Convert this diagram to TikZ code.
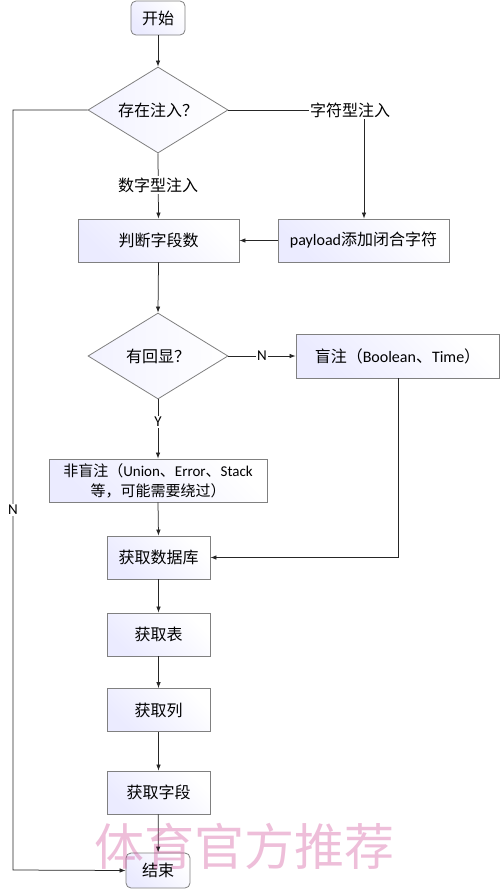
\documentclass[tikz,border=0pt]{standalone}
\usepackage{fontspec}
\setmainfont{Carlito}
\newfontfamily\cjk{Noto Sans CJK SC}
\usetikzlibrary{arrows.meta,shapes.geometric}
\newcommand{\la}[1]{{\fontspec{Carlito}#1}}
\tikzset{
  x=1pt,y=-1pt,
  every node/.style={font=\cjk\fontsize{16}{19}\selectfont, text=black},
  boxstyle/.style={draw=black!50, line width=0.8pt, left color=blue!8!white, right color=white, shading angle=135, inner sep=0pt, align=center},
  termstyle/.style={boxstyle, rounded corners=5pt},
  decstyle/.style={diamond, draw=black!50, line width=0.8pt, left color=blue!5!white, right color=white, inner sep=0pt, aspect=1.63, minimum width=140pt, minimum height=86pt},
  conn/.style={draw=black!85, line width=0.75pt, -{Latex[length=6pt,width=4.5pt]}},
  plain/.style={draw=black!85, line width=0.75pt},
  lbl/.style={fill=white, inner sep=1.5pt}
}
\begin{document}
\begin{tikzpicture}
\useasboundingbox (0,0) rectangle (500,889);
\fill[white] (0,0) rectangle (500,889);
\node[termstyle, minimum width=54pt, minimum height=34pt] (start) at (158,18) {开始};
\node[decstyle] (d1) at (158,110) {存在注入？};
\node[boxstyle, minimum width=161pt, minimum height=43pt] (judge) at (158.5,240.5) {判断字段数};
\node[boxstyle, minimum width=171pt, minimum height=43pt] (payload) at (363.5,240.5) {\la{payload}添加闭合字符};
\node[decstyle] (d2) at (158,356) {有回显？};
\node[boxstyle, minimum width=203pt, minimum height=44pt] (blind) at (397.5,356) {盲注（\la{Boolean}、\la{Time}）};
\node[boxstyle, minimum width=218pt, minimum height=43pt, font=\cjk\fontsize{15}{20}\selectfont] (nonblind) at (158,480.5) {非盲注（\la{Union}、\la{Error}、\la{Stack}\\等，可能需要绕过）};
\node[boxstyle, minimum width=103pt, minimum height=43pt] (db) at (158.5,557.5) {获取数据库};
\node[boxstyle, minimum width=103pt, minimum height=43pt] (tbl) at (158.5,634.5) {获取表};
\node[boxstyle, minimum width=103pt, minimum height=43pt] (col) at (158.5,710) {获取列};
\node[boxstyle, minimum width=103pt, minimum height=43pt] (fld) at (158.5,792.5) {获取字段};
\node[termstyle, minimum width=64pt, minimum height=35pt] (end) at (158,870.5) {结束};

\coordinate (c1) at (364,110);
\coordinate (c2) at (13,110);
\coordinate (c3) at (13,870);
\coordinate (c4) at (398,557.5);

\draw[conn] (start) -- (d1);
\draw[plain] (d1.east) -- (c1);
\draw[conn] (c1) -- (payload.north -| c1);
\node[lbl] (lchar) at (350,110) {字符型注入};
\draw[conn] (d1.south) -- (judge.north);
\node[lbl] (lnum) at (158,185) {数字型注入};
\draw[conn] (payload.west) -- (judge.east);
\draw[conn] (judge.south) -- (d2.north);
\draw[conn] (d2.east) -- (blind.west);
\node[lbl, font=\fontsize{15}{16}\selectfont] (ln) at (262,356) {N};
\draw[conn] (d2.south) -- (nonblind.north);
\node[lbl, font=\fontsize{15}{16}\selectfont] (ly) at (158,422) {Y};
\draw[conn] (nonblind.south) -- (db.north);
\draw[conn] (blind.south -| c4) -- (c4) -- (db.east);
\draw[conn] (db) -- (tbl);
\draw[conn] (tbl) -- (col);
\draw[conn] (col) -- (fld);
\draw[conn] (fld) -- (end);
\draw[conn] (d1.west) -- (c2) -- (c3) -- (end.west);
\node[lbl, font=\fontsize{15}{16}\selectfont] (lnl) at (13,510) {N};

\node[font=\cjk\fontsize{50}{50}\selectfont, text=magenta!60!violet, opacity=0.3] (wm) at (244,846) {体育官方推荐};
\end{tikzpicture}
\end{document}
